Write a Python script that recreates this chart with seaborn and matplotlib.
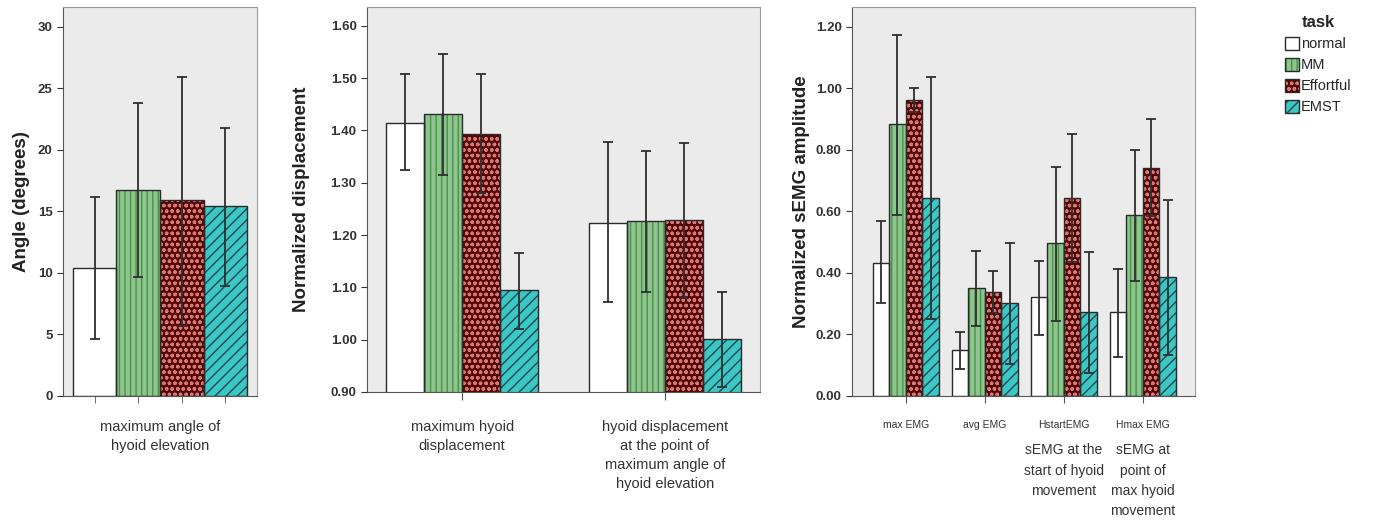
import pandas as pd
import seaborn as sns
import matplotlib.pyplot as plt
from matplotlib.patches import Patch, Rectangle
from matplotlib.legend_handler import HandlerTuple
from matplotlib.ticker import FormatStrFormatter
import matplotlib.transforms as mtransforms

# ---- data, rows follow `tasks` ----
tasks = ["normal", "MM", "Effortful", "EMST"]

angle_cats = ["maximum angle of\nhyoid elevation"]
angle_mean = [[10.4], [16.7], [15.9], [15.4]]
angle_lo = [[4.6], [9.7], [5.7], [8.9]]
angle_hi = [[16.2], [23.8], [25.9], [21.8]]

disp_cats = ["maximum hyoid\ndisplacement",
             "hyoid displacement\nat the point of\nmaximum angle of\nhyoid elevation"]
disp_mean = [[1.415, 1.224], [1.432, 1.226], [1.394, 1.228], [1.095, 1.002]]
disp_lo = [[1.325, 1.072], [1.315, 1.092], [1.280, 1.080], [1.020, 0.910]]
disp_hi = [[1.507, 1.378], [1.547, 1.360], [1.507, 1.376], [1.165, 1.092]]

emg_cats = ["max EMG", "avg EMG", "HstartEMG", "Hmax EMG"]
emg_notes = ["", "", "sEMG at the\nstart of hyoid\nmovement",
             "sEMG at\npoint of\nmax hyoid\nmovement"]
emg_mean = [[0.434, 0.149, 0.321, 0.272],
            [0.883, 0.352, 0.497, 0.588],
            [0.964, 0.338, 0.645, 0.743],
            [0.645, 0.301, 0.272, 0.386]]
emg_lo = [[0.301, 0.087, 0.198, 0.128],
          [0.588, 0.229, 0.244, 0.374],
          [0.925, 0.270, 0.437, 0.586],
          [0.252, 0.105, 0.076, 0.133]]
emg_hi = [[0.569, 0.207, 0.439, 0.414],
          [1.173, 0.471, 0.745, 0.799],
          [1.003, 0.406, 0.853, 0.900],
          [1.038, 0.497, 0.468, 0.639]]

# ---- styling ----
fills = ["#FFFFFF", "#8CC68C", "#5A0202", "#3CC6C6"]
hatches = ["", "|||", "ooo", "///"]
hatch_cols = ["#FFFFFF", "#4E8E4E", "#D07A7A", "#1E4A4A"]
EDGE = "#2A2A2A"
BG = "#EBEBEB"

sns.set_style("ticks")
plt.rcParams["font.family"] = ["Liberation Sans", "DejaVu Sans"]
plt.rcParams["hatch.linewidth"] = 1.0


def draw_panel(ax, cats, mean, lo, hi, width):
    rows = []
    for i, t in enumerate(tasks):
        for j, c in enumerate(cats):
            rows.append({"measure": c, "task": t, "value": mean[i][j]})
    df = pd.DataFrame(rows)
    sns.barplot(data=df, x="measure", y="value", hue="task", order=cats,
                hue_order=tasks, palette=fills, saturation=1, width=width,
                errorbar=None, legend=False, ax=ax)
    bar_groups = list(ax.containers)
    centers = []
    for i, cont in enumerate(bar_groups):
        for j, bar in enumerate(cont):
            bar.set_hatch(hatches[i])
            bar.set_edgecolor(hatch_cols[i])
            bar.set_linewidth(0)
            ax.add_patch(Rectangle(bar.get_xy(), bar.get_width(), bar.get_height(),
                                   fill=False, ec=EDGE, lw=1.0, zorder=bar.get_zorder() + 0.1))
            xc = bar.get_x() + bar.get_width() / 2
            centers.append(xc)
            m = mean[i][j]
            ax.errorbar(xc, m, yerr=[[m - lo[i][j]], [hi[i][j] - m]], fmt="none",
                        ecolor="#2E2E2E", elinewidth=1.3, capsize=3.5, capthick=1.3,
                        zorder=5)
    ax.set_facecolor(BG)
    ax.set_xlabel("")
    for s in ["left", "bottom"]:
        ax.spines[s].set_color("#555555")
    for s in ["top", "right"]:
        ax.spines[s].set_color("#9A9A9A")
    ax.tick_params(axis="y", labelsize=9.5, colors="#333333", length=4)
    return centers


fig = plt.figure(figsize=(13.74, 5.28), dpi=100)
ax1 = fig.add_axes([63 / 1374, 132 / 528, 194 / 1374, 389 / 528])
ax2 = fig.add_axes([367 / 1374, 136 / 528, 393 / 1374, 385 / 528])
ax3 = fig.add_axes([852 / 1374, 132 / 528, 343 / 1374, 389 / 528])

# panel 1
c1 = draw_panel(ax1, angle_cats, angle_mean, angle_lo, angle_hi, 0.9)
ax1.set_xlim(-0.5, 0.5)
ax1.set_ylim(0, 31.6)
ax1.set_yticks([0, 5, 10, 15, 20, 25, 30])
ax1.set_xticks(sorted(c1), minor=True)
ax1.tick_params(axis="x", which="major", length=0, pad=17, labelsize=10.5, colors="#333333")
ax1.tick_params(axis="x", which="minor", length=5, color="#555555")
for lab in ax1.get_xticklabels():
    lab.set_linespacing(1.45)
ax1.set_ylabel("Angle (degrees)", fontsize=13.5, fontweight="bold", color="#222222")
ax1.yaxis.set_label_coords(-0.17, 0.5)
for lab in ax1.get_yticklabels():
    lab.set_fontweight("bold")

# panel 2
draw_panel(ax2, disp_cats, disp_mean, disp_lo, disp_hi, 0.75)
ax2.set_xlim(-0.47, 1.47)
ax2.set_ylim(0.90, 1.636)
ax2.set_yticks([0.9, 1.0, 1.1, 1.2, 1.3, 1.4, 1.5, 1.6])
ax2.yaxis.set_major_formatter(FormatStrFormatter("%.2f"))
ax2.tick_params(axis="x", length=6, color="#555555", pad=14, labelsize=10.5, colors="#333333")
for lab in ax2.get_xticklabels():
    lab.set_linespacing(1.45)
    lab.set_verticalalignment("top")
ax2.set_ylabel("Normalized displacement", fontsize=13.5, fontweight="bold", color="#222222")
ax2.yaxis.set_label_coords(-0.145, 0.5)
for lab in ax2.get_yticklabels():
    lab.set_fontweight("bold")

# panel 3
draw_panel(ax3, emg_cats, emg_mean, emg_lo, emg_hi, 0.84)
ax3.set_xlim(-0.68, 3.66)
ax3.set_ylim(0, 1.265)
ax3.set_yticks([0, 0.2, 0.4, 0.6, 0.8, 1.0, 1.2])
ax3.yaxis.set_major_formatter(FormatStrFormatter("%.2f"))
ax3.tick_params(axis="x", length=5, color="#555555", pad=12, labelsize=7.5, colors="#333333")
ax3.set_ylabel("Normalized sEMG amplitude", fontsize=13.5, fontweight="bold", color="#222222")
ax3.yaxis.set_label_coords(-0.122, 0.5)
for lab in ax3.get_yticklabels():
    lab.set_fontweight("bold")
trans = mtransforms.blended_transform_factory(ax3.transData, ax3.transAxes)
for j, note in enumerate(emg_notes):
    if note:
        ax3.text(j, -0.122, note, transform=trans, ha="center", va="top",
                 fontsize=10, color="#333333", linespacing=1.55)

# legend
handles = []
for i in range(len(tasks)):
    hp = Patch(facecolor=fills[i], hatch=hatches[i], edgecolor=hatch_cols[i], lw=0)
    op = Patch(fill=False, edgecolor=EDGE, lw=1.0)
    handles.append((hp, op))
leg = fig.legend(handles, tasks, title="task", loc="upper left",
                 bbox_to_anchor=(1272 / 1374, 1 - 2 / 528), frameon=False,
                 handler_map={tuple: HandlerTuple(ndivide=1, pad=0)},
                 handlelength=0.95, handleheight=1.0, handletextpad=0.15,
                 labelspacing=0.45, fontsize=10.5,
                 title_fontproperties={"weight": "bold", "size": 12})

fig.savefig("out.png", dpi=100)
